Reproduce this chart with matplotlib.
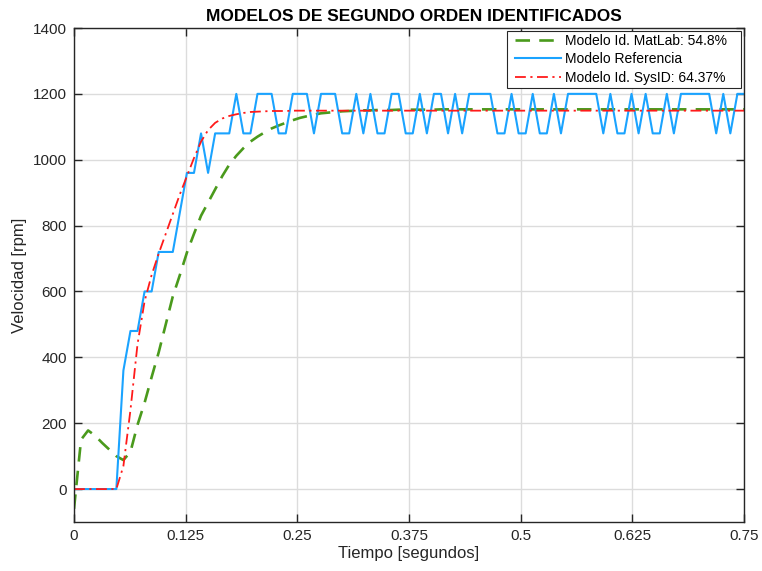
import numpy as np
import matplotlib
matplotlib.use("Agg")
import matplotlib.pyplot as plt
from matplotlib.lines import Line2D
from matplotlib.legend_handler import HandlerLine2D

plt.rcParams['font.family'] = ['Liberation Sans', 'DejaVu Sans']

# Sample period of the logged data [s]
Ts = 0.0079

# Measured speed of the reference system [rpm]
vel_referencia = [
    0, 0, 0, 0, 0, 0, 0,
    360, 480, 480, 600, 600, 720, 720, 720, 840, 960,
    960, 1080, 960, 1080, 1080, 1080, 1200, 1080, 1080, 1200,
    1200, 1200, 1080, 1080, 1200, 1200, 1200, 1080, 1200, 1200,
    1200, 1080, 1080, 1200, 1080, 1200, 1080, 1080, 1200, 1200,
    1080, 1080, 1200, 1080, 1200, 1200, 1080, 1200, 1080, 1200,
    1200, 1200, 1200, 1080, 1080, 1200, 1080, 1080, 1200, 1080,
    1080, 1200, 1080, 1200, 1200, 1200, 1200, 1200, 1080, 1200,
    1080, 1080, 1200, 1080, 1200, 1080, 1080, 1200, 1080, 1200,
    1200, 1200, 1200, 1200, 1080, 1200, 1080, 1200, 1200,
]

# Response of the model identified with the MATLAB toolbox [rpm]
vel_matlab = [
    -60, 150, 178, 162, 140, 120, 100, 88, 113, 195,
    262, 340, 415, 500, 585, 650, 718, 775, 830, 870,
    910, 950, 985, 1012, 1035, 1055, 1070, 1083, 1095, 1104,
    1112, 1120, 1127, 1132, 1137, 1141, 1143, 1145, 1147, 1148,
    1149, 1150, 1150, 1151, 1151, 1151, 1152, 1152, 1152, 1152,
    1152, 1152, 1153, 1153, 1153, 1153, 1153, 1153, 1153, 1153,
    1153, 1153, 1153, 1153, 1153, 1153, 1153, 1153, 1153, 1153,
    1153, 1153, 1153, 1153, 1153, 1153, 1153, 1153, 1153, 1153,
    1153, 1153, 1153, 1153, 1153, 1153, 1153, 1153, 1153, 1153,
    1153, 1153, 1153, 1153, 1153, 1153,
]

# Response of the model identified with SysID [rpm]
vel_sysid = [
    0, 0, 0, 0, 0, 0, 0, 70, 240, 440,
    570, 650, 715, 775, 835, 895, 950, 1005, 1055, 1090,
    1112, 1125, 1133, 1138, 1142, 1145, 1146, 1147, 1148, 1148,
    1148, 1149, 1149, 1149, 1149, 1149, 1149, 1149, 1149, 1149,
    1149, 1149, 1149, 1149, 1149, 1149, 1149, 1149, 1149, 1149,
    1149, 1149, 1149, 1149, 1149, 1149, 1149, 1149, 1149, 1149,
    1149, 1149, 1149, 1149, 1149, 1149, 1149, 1149, 1149, 1149,
    1149, 1149, 1149, 1149, 1149, 1149, 1149, 1149, 1149, 1149,
    1149, 1149, 1149, 1149, 1149, 1149, 1149, 1149, 1149, 1149,
    1149, 1149, 1149, 1149, 1149, 1149,
]

etiquetas = ['Modelo Id. MatLab: 54.8%', 'Modelo Referencia', 'Modelo Id. SysID: 64.37%']
xticks = [0, 0.125, 0.25, 0.375, 0.5, 0.625, 0.75]
xticklabels = ['0', '0.125', '0.25', '0.375', '0.5', '0.625', '0.75']
yticks = [0, 200, 400, 600, 800, 1000, 1200, 1400]

t = np.arange(len(vel_referencia)) * Ts

fig = plt.figure(figsize=(7.62, 5.71), dpi=100)
ax = fig.add_axes([74 / 762, 1 - 522 / 571, 670 / 762, 494 / 571])

ax.plot(t, vel_matlab, color='#4a9a1c', linestyle=(0, (5.5, 3.5)), linewidth=1.9,
        label=etiquetas[0] + '   ')
ax.plot(t, vel_referencia, color='#1aa3ff', linewidth=1.5, label=etiquetas[1] + '   ')
ax.plot(t, vel_sysid, color='#ff1a1a', linestyle=(0, (6, 2.5, 1.2, 2.5)), linewidth=1.3,
        label=etiquetas[2] + '   ')

ax.set_xlim(0, 0.75)
ax.set_ylim(-100, 1400)
ax.set_xticks(xticks)
ax.set_xticklabels(xticklabels)
ax.set_yticks(yticks)

ax.grid(True, color='#dcdcdc', linewidth=1.0)
ax.set_axisbelow(True)
for s in ax.spines.values():
    s.set_color('#262626')
    s.set_linewidth(1.0)
ax.tick_params(direction='in', length=6, width=1.0, colors='#262626',
               labelsize=11, top=True, right=True, pad=5)
for lbl in ax.get_xticklabels() + ax.get_yticklabels():
    lbl.set_color('#262626')

ax.set_xlabel('Tiempo [segundos]', fontsize=12, color='#262626', labelpad=2)
ax.set_ylabel('Velocidad [rpm]', fontsize=12, color='#262626', labelpad=4)
ax.set_title('MODELOS DE SEGUNDO ORDEN IDENTIFICADOS', fontsize=12.5, fontweight='bold',
             pad=5, x=0.5075)

leg = ax.legend(loc='upper right', fontsize=10, frameon=True, fancybox=False,
                edgecolor='#262626', framealpha=1.0, borderaxespad=0.2,
                handlelength=3.67, handletextpad=0.29, borderpad=0.21, labelspacing=0.32,
                handler_map={Line2D: HandlerLine2D(xpad=0.36)})
leg.get_frame().set_linewidth(0.8)

fig.savefig('out.png', dpi=100)
